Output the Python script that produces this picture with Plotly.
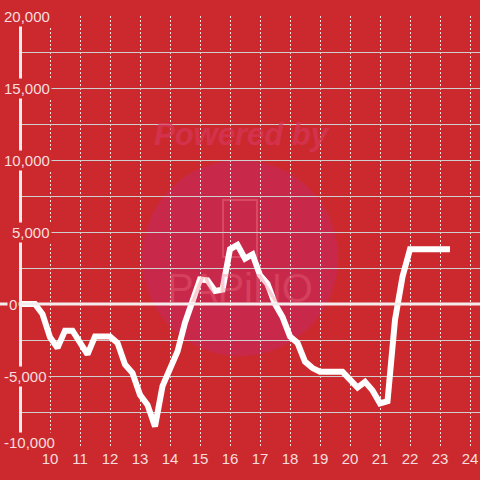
import plotly.graph_objects as go

# ---- data ----
hours = [9.00, 9.25, 9.50, 9.75, 10.00, 10.25, 10.50, 10.75, 11.00, 11.25,
         11.50, 11.75, 12.00, 12.25, 12.50, 12.75, 13.00, 13.25, 13.50, 13.75,
         14.00, 14.25, 14.50, 14.75, 15.00, 15.25, 15.50, 15.75, 16.00, 16.25,
         16.50, 16.75, 17.00, 17.25, 17.50, 17.75, 18.00, 18.25, 18.50, 18.75,
         19.00, 19.25, 19.50, 19.75, 20.00, 20.25, 20.50, 20.75, 21.00, 21.25,
         21.50, 21.75, 22.00, 22.25, 22.50, 22.75, 23.00, 23.25, 23.333]
values = [0, 0, 0, -700, -2300, -3050, -1850, -1850, -2700, -3500,
          -2250, -2250, -2250, -2700, -4200, -4800, -6300, -7000, -8500, -5700,
          -4500, -3300, -1300, 100, 1700, 1650, 900, 1000, 3800, 4100,
          3150, 3450, 2000, 1400, 0, -900, -2250, -2700, -4000, -4450,
          -4700, -4700, -4700, -4700, -5250, -5800, -5400, -6000, -6900, -6750,
          -1100, 1900, 3800, 3800, 3800, 3800, 3800, 3800, 3800]
x_ticks = [10, 11, 12, 13, 14, 15, 16, 17, 18, 19, 20, 21, 22, 23, 24]
y_grid = [-10000, -7500, -5000, -2500, 0, 2500, 5000, 7500, 10000, 12500, 15000, 17500, 20000]
y_label_vals = [20000, 15000, 10000, 5000, 0, -5000, -10000]
y_label_text = ["20,000", "15,000", "10,000", "5,000", "0", "-5,000", "-10,000"]

BG = "rgb(204,41,46)"
TXT = "#f6dede"
FONT = "Liberation Sans, Arial, sans-serif"
L, T, PW, PH = 20, 16, 460, 432


def px_x(p):
    return (p - L) / PW


def px_y(p):
    return (T + PH - p) / PH


fig = go.Figure()
fig.add_trace(go.Scatter(
    x=hours, y=values, mode="lines",
    line=dict(color="#ffffff", width=6),
    hoverinfo="skip", showlegend=False,
))

shapes = [
    # watermark circle
    dict(type="circle", xref="paper", yref="paper",
         x0=px_x(142), x1=px_x(338), y0=px_y(356), y1=px_y(160),
         fillcolor="#c8294a", line=dict(width=0), layer="below"),
    # watermark phone outline
    dict(type="rect", xref="paper", yref="paper",
         x0=px_x(223), x1=px_x(257), y0=px_y(257), y1=px_y(200),
         line=dict(color="rgba(235,110,130,0.45)", width=2), layer="below"),
    # zero line
    dict(type="line", xref="paper", yref="y", x0=px_x(0), x1=1, y0=0, y1=0,
         line=dict(color="#f4ecec", width=3), layer="above"),
    # y axis line
    dict(type="line", xref="paper", yref="y", x0=px_x(20.5), x1=px_x(20.5), y0=-10000, y1=20000,
         line=dict(color="#f4ecec", width=3), layer="above"),
]

annotations = [
    dict(text="<b><i>Powered by</i></b>", xref="paper", yref="paper",
         x=px_x(242), y=px_y(134), xanchor="center", yanchor="middle", showarrow=False,
         font=dict(family=FONT, size=31, color="rgba(215,55,90,0.7)")),
    dict(text="PAPiNO", xref="paper", yref="paper",
         x=px_x(240), y=px_y(288), xanchor="center", yanchor="middle", showarrow=False,
         font=dict(family=FONT, size=40, color="rgba(235,110,130,0.35)")),
]
for v, t in zip(y_label_vals, y_label_text):
    if v > 0:
        ax, anc = px_x(52), "right"
    elif v == 0:
        ax, anc = px_x(7), "left"
    else:
        ax, anc = px_x(2), "left"
    annotations.append(dict(
        text=t, xref="paper", yref="y", x=ax, y=v,
        xanchor=anc, yanchor="middle", showarrow=False,
        yshift=6 if v == -10000 else 0,
        bgcolor=BG, borderpad=1,
        font=dict(family=FONT, size=15, color=TXT),
    ))

fig.update_layout(
    width=480, height=480,
    margin=dict(l=L, r=480 - L - PW, t=T, b=480 - T - PH, autoexpand=False),
    paper_bgcolor=BG, plot_bgcolor=BG,
    showlegend=False,
    shapes=shapes, annotations=annotations,
    xaxis=dict(
        range=[9, 24.333], tickvals=x_ticks, ticktext=[str(t) for t in x_ticks],
        showgrid=True, gridcolor="rgba(255,255,255,0.85)", gridwidth=1, griddash="2px,2px",
        zeroline=False, showline=False, ticks="",
        tickfont=dict(family=FONT, size=15, color=TXT),
        fixedrange=True,
    ),
    yaxis=dict(
        range=[-10000, 20000], tickvals=y_grid, showticklabels=False,
        showgrid=True, gridcolor="#cfcfcf", gridwidth=1,
        zeroline=False, showline=False, ticks="",
        fixedrange=True,
    ),
)

fig.write_html("out.html", config={"displayModeBar": False},
               post_script="document.body.style.margin='0';document.body.style.overflow='hidden';")
